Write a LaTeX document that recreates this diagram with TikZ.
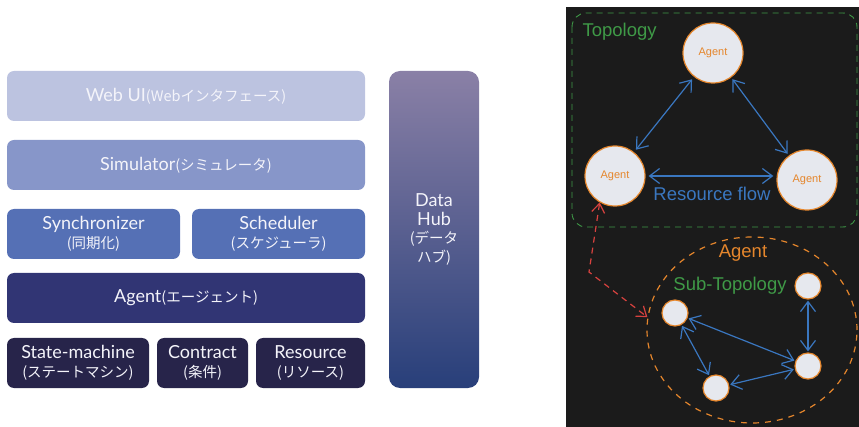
\documentclass[tikz,border=0pt]{standalone}
\usepackage{fontspec}
\setmainfont{Lato}
\newfontfamily\jpfont{Noto Sans CJK JP}
\newfontfamily\sketchfont{Liberation Sans}
\usetikzlibrary{arrows.meta,shapes.geometric}
\definecolor{ui}{HTML}{BCC3E0}
\definecolor{sim}{HTML}{8796C9}
\definecolor{core}{HTML}{5570B5}
\definecolor{agentbg}{HTML}{313574}
\definecolor{base}{HTML}{27244A}
\definecolor{hubtop}{HTML}{8A80A6}
\definecolor{hubbot}{HTML}{283F7A}
\definecolor{panel}{HTML}{1B1B1B}
\definecolor{topo}{HTML}{3F9A47}
\definecolor{flow}{HTML}{3A77C0}
\definecolor{agentline}{HTML}{E5862C}
\definecolor{link}{HTML}{D8423F}
\definecolor{ball}{HTML}{E6E8EE}
\definecolor{label}{HTML}{F4F4FA}
\newcommand{\jp}[1]{{\jpfont\fontsize{14.5}{18}\selectfont #1}}
\tikzset{
  layer/.style={rounded corners=7pt, inner sep=0pt, minimum height=50pt, text=label, align=center, font=\fontsize{18}{18.5}\selectfont},
  bigagent/.style={circle, draw=agentline, line width=1.2pt, fill=ball, minimum size=60pt, inner sep=0pt, text=agentline, font=\sketchfont\fontsize{11}{13}\selectfont},
  smallagent/.style={circle, draw=agentline, line width=1.2pt, fill=ball, minimum size=26pt, inner sep=0pt},
  flowarrow/.style={draw=flow, line width=1.2pt, {Straight Barb[length=10pt,width=15pt]}-{Straight Barb[length=10pt,width=15pt]}},
  sketchtext/.style={font=\sketchfont\fontsize{18.5}{20}\selectfont}
}

\begin{document}
\begin{tikzpicture}[x=1pt,y=-1pt]
\useasboundingbox (0,0) rectangle (859,427);
\node[layer, fill=ui, minimum width=358pt] (webui) at (186,96) {Web UI\jp{(Webインタフェース)}};
\node[layer, fill=sim, minimum width=358pt] (sim) at (186,165) {Simulator\jp{(シミュレータ)}};
\node[layer, fill=core, minimum width=173pt] (sync) at (93.5,234) {Synchronizer\\\jp{(同期化)}};
\node[layer, fill=core, minimum width=173pt] (sched) at (278.5,234) {Scheduler\\\jp{(スケジューラ)}};
\node[layer, fill=agentbg, minimum width=358pt] (agent) at (186,298) {Agent\jp{(エージェント)}};
\node[layer, fill=base, minimum width=142pt] (sm) at (78,363) {State-machine\\\jp{(ステートマシン)}};
\node[layer, fill=base, minimum width=91pt] (contract) at (202.5,363) {Contract\\\jp{(条件)}};
\node[layer, fill=base, minimum width=109pt] (resource) at (310.5,363) {Resource\\\jp{(リソース)}};
\node[layer, rounded corners=11pt, top color=hubtop, middle color=hubbot!85!hubtop, bottom color=hubbot, minimum width=90pt, minimum height=317pt] (hub) at (434,229.5) {Data\\Hub\\\jp{(データ}\\\jp{ハブ)}};

\fill[panel] (566,7) rectangle (859,427);
\draw[topo, line width=0.9pt, dash pattern=on 6pt off 5pt, rounded corners=14pt] (572,13) rectangle (857,227);
\node[sketchtext, text=topo, anchor=west] (topolabel) at (579,32) {Topology};

\node[bigagent] (top) at (713,53) {Agent};
\node[bigagent] (left) at (615,176) {Agent};
\node[bigagent] (right) at (807,180) {Agent};
\draw[flowarrow, shorten <=3pt, shorten >=3pt] (top) -- (left);
\draw[flowarrow, shorten <=2pt, shorten >=2pt] (top) -- (right);
\draw[flowarrow, shorten <=3pt, shorten >=3pt] (left.east) -- (right.west |- left.east);
\node[sketchtext, text=flow] (flowlabel) at (712,194) {Resource flow};

\node[ellipse, draw=agentline, line width=1.2pt, dash pattern=on 6pt off 6pt, minimum width=210pt, minimum height=186pt, inner sep=0pt] (sub) at (752,330) {};
\node[sketchtext, text=agentline] (sublabel) at (743,253) {Agent};
\node[sketchtext, text=topo] (subtopo) at (730,286) {Sub-Topology};

\node[smallagent] (s1) at (675,313) {};
\node[smallagent] (s2) at (808,286) {};
\node[smallagent] (s3) at (808,366) {};
\node[smallagent] (s4) at (716,388) {};
\draw[flowarrow, shorten <=1pt, shorten >=1pt] (s1) -- (s3);
\draw[flowarrow, shorten <=1pt, shorten >=1pt] (s1) -- (s4);
\draw[flowarrow, shorten <=1pt, shorten >=1pt] (s2) -- (s3);
\draw[flowarrow, shorten <=1pt, shorten >=1pt] (s4) -- (s3);

\coordinate (bend) at (589,272);
\draw[link, line width=1.2pt, dash pattern=on 6pt off 5pt, {Straight Barb[length=9pt,width=13pt]}-{Straight Barb[length=9pt,width=13pt]}] (left.-120) -- (bend) -- (sub.173);
\end{tikzpicture}
\end{document}
